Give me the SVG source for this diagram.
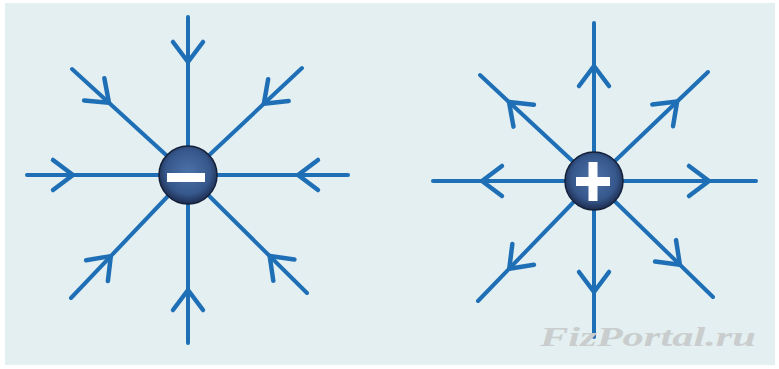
<svg xmlns="http://www.w3.org/2000/svg" xmlns:xlink="http://www.w3.org/1999/xlink" width="779" height="369" viewBox="0 0 779 369">
<style>
.ray{stroke:#1f6fb6;stroke-width:4;stroke-linecap:round;fill:none}
.chev{stroke:#1f6fb6;stroke-width:4.5;stroke-linecap:round;stroke-linejoin:round;fill:none}
.charge{fill:url(#cg);stroke:#14203a;stroke-width:1.5}
.sign{fill:#ffffff}
.wm{font-family:"Liberation Serif",serif;font-style:italic;font-weight:bold;font-size:27px;fill:#c9cdcd}
</style>
<defs>
<radialGradient id="cg" cx="50%" cy="45%" r="55%">
<stop offset="0" stop-color="#4c72aa"/>
<stop offset="0.7" stop-color="#36578b"/>
<stop offset="1" stop-color="#1c2d50"/>
</radialGradient>
<path id="in" d="M20,-15 L0,0 L20,15"/>
<path id="out" d="M-20,-15 L0,0 L-20,15"/>
</defs>
<rect x="0" y="0" width="779" height="369" fill="#ffffff"/>
<rect x="5" y="3" width="770" height="362" fill="#e3eff1"/>
<g id="connectors">
<g id="neg-field">
<line class="ray" x1="188" y1="175" x2="188" y2="17"/>
<line class="ray" x1="188" y1="175" x2="188" y2="343"/>
<line class="ray" x1="188" y1="175" x2="27" y2="175"/>
<line class="ray" x1="188" y1="175" x2="348" y2="175"/>
<line class="ray" x1="188" y1="175" x2="72" y2="69"/>
<line class="ray" x1="188" y1="175" x2="302" y2="68"/>
<line class="ray" x1="188" y1="175" x2="71" y2="298"/>
<line class="ray" x1="188" y1="175" x2="307" y2="293"/>
<g class="chev">
<use xlink:href="#in" transform="translate(188,175) rotate(0) translate(110,0)"/>
<use xlink:href="#in" transform="translate(188,175) rotate(44.76) translate(115,0)"/>
<use xlink:href="#in" transform="translate(188,175) rotate(90) translate(115,0)"/>
<use xlink:href="#in" transform="translate(188,175) rotate(133.57) translate(112,0)"/>
<use xlink:href="#in" transform="translate(188,175) rotate(180) translate(115,0)"/>
<use xlink:href="#in" transform="translate(188,175) rotate(-137.58) translate(107,0)"/>
<use xlink:href="#in" transform="translate(188,175) rotate(-90) translate(113,0)"/>
<use xlink:href="#in" transform="translate(188,175) rotate(-43.18) translate(104,0)"/>
</g>
</g>
<g id="pos-field">
<line class="ray" x1="594" y1="181" x2="594" y2="23"/>
<line class="ray" x1="594" y1="181" x2="594" y2="337"/>
<line class="ray" x1="594" y1="181" x2="433" y2="181"/>
<line class="ray" x1="594" y1="181" x2="756" y2="181"/>
<line class="ray" x1="594" y1="181" x2="480" y2="75"/>
<line class="ray" x1="594" y1="181" x2="708" y2="72"/>
<line class="ray" x1="594" y1="181" x2="478" y2="301"/>
<line class="ray" x1="594" y1="181" x2="713" y2="297"/>
<g class="chev">
<use xlink:href="#out" transform="translate(594,181) rotate(0) translate(115,0)"/>
<use xlink:href="#out" transform="translate(594,181) rotate(44.3) translate(120,0)"/>
<use xlink:href="#out" transform="translate(594,181) rotate(90) translate(111,0)"/>
<use xlink:href="#out" transform="translate(594,181) rotate(134.0) translate(122,0)"/>
<use xlink:href="#out" transform="translate(594,181) rotate(180) translate(112,0)"/>
<use xlink:href="#out" transform="translate(594,181) rotate(-137.1) translate(116,0)"/>
<use xlink:href="#out" transform="translate(594,181) rotate(-90) translate(115,0)"/>
<use xlink:href="#out" transform="translate(594,181) rotate(-43.7) translate(115,0)"/>
</g>
</g>
</g>
<g id="negative-charge">
<circle class="charge" cx="188" cy="175" r="29"/>
<rect class="sign" x="167" y="173" width="38" height="9"/>
</g>
<g id="positive-charge">
<circle class="charge" cx="594" cy="181" r="29"/>
<rect class="sign" x="576" y="177" width="34" height="9"/>
<rect class="sign" x="588.5" y="162" width="9" height="39"/>
</g>
<text class="wm" x="540" y="346" textLength="216" lengthAdjust="spacingAndGlyphs">FizPortal.ru</text>
</svg>
